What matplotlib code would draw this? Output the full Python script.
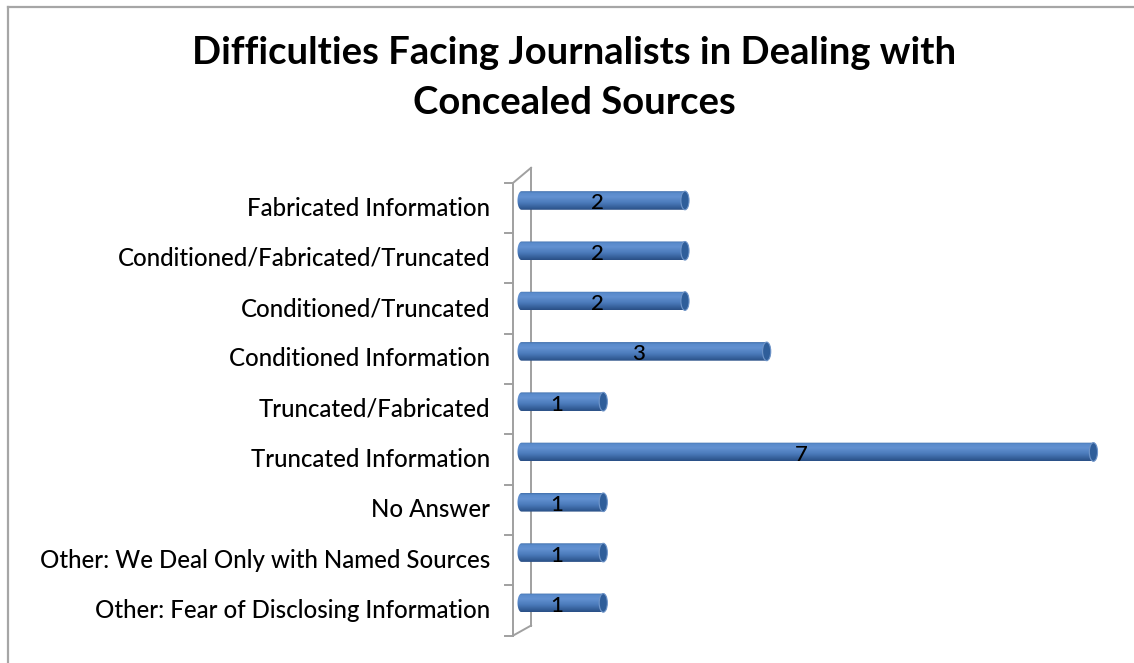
import numpy as np
import matplotlib
matplotlib.use("Agg")
import matplotlib.pyplot as plt
from matplotlib.path import Path
from matplotlib.patches import PathPatch, Ellipse
from matplotlib.colors import LinearSegmentedColormap
from matplotlib.lines import Line2D

# Survey answers (top to bottom)
categories = [
    "Fabricated Information",
    "Conditioned/Fabricated/Truncated",
    "Conditioned/Truncated",
    "Conditioned Information",
    "Truncated/Fabricated",
    "Truncated Information",
    "No Answer",
    "Other: We Deal Only with Named Sources",
    "Other: Fear of Disclosing Information",
]
counts = [2, 2, 2, 3, 1, 7, 1, 1, 1]
title_lines = ["Difficulties Facing Journalists in Dealing with", "Concealed Sources"]

W, H = 1134, 663
fig = plt.figure(figsize=(W / 100, H / 100), dpi=100)
fig.patch.set_facecolor("white")

# outer frame of the chart area
fig.add_artist(Line2D([8 / W, 1], [1 - 7 / H, 1 - 7 / H], color="#a6a6a6", lw=1.6))
fig.add_artist(Line2D([8 / W, 8 / W], [0, 1 - 7 / H], color="#a6a6a6", lw=1.6))

ax = fig.add_axes([0.4405, 0.0148, 0.5403, 0.7587])
ax.set_xlim(-0.27, 7.23)
ax.set_ylim(9.0, -1.0)
ax.axis("off")

n = len(categories)
ypos = np.arange(n)
h = 0.37          # cylinder thickness
a = 0.05          # half-width of the end ellipses (x data units)

cyl = LinearSegmentedColormap.from_list(
    "cyl",
    [(0.0, "#4270ab"), (0.10, "#5a8bcc"), (0.30, "#6391d1"),
     (0.60, "#4c7cbc"), (0.85, "#36619b"), (1.0, "#2a4f85")],
)
grad = np.linspace(0, 1, 64).reshape(-1, 1)

for y, v in zip(ypos, counts):
    t = np.linspace(0, np.pi, 40)
    top, bot = y - h / 2, y + h / 2
    # left rounded end (top -> bottom), then right rounded end (bottom -> top)
    lx = -a * np.sin(t)
    ly = y - (h / 2) * np.cos(t)
    rx = v + a * np.sin(t)
    ry = y + (h / 2) * np.cos(t)
    verts = np.concatenate([np.column_stack([lx, ly]), np.column_stack([rx, ry]),
                            [[lx[0], ly[0]]]])
    codes = [Path.MOVETO] + [Path.LINETO] * (len(verts) - 2) + [Path.CLOSEPOLY]
    body = PathPatch(Path(verts, codes), facecolor="none", edgecolor="none")
    ax.add_patch(body)
    im = ax.imshow(grad, cmap=cyl, extent=(-a, v + a, bot, top),
                   aspect="auto", origin="upper", interpolation="bilinear", zorder=2)
    im.set_clip_path(body)
    # end cap of the cylinder
    ax.add_patch(Ellipse((v, y), 2 * a, h, facecolor="#2f5e9a",
                         edgecolor="#6f95c9", lw=0.8, zorder=4))
    ax.text(v / 2 - 0.07, y + 0.06, f"{v}", ha="center", va="center",
            fontsize=16, family="Lato", fontweight="medium", color="black", zorder=5)

# category labels
for y, lab in zip(ypos, categories):
    ax.text(-0.386, y + 0.15, lab, ha="right", va="center",
            fontsize=17.3, family="Lato", fontweight="medium", color="black")

# 3-D axis wall: back edge, front edge, depth connectors and tick marks
sep = np.arange(n + 1) - 0.35
xf, xb, xt = -0.104, 0.116, -0.202
wall = dict(color="#a0a0a0", lw=1.4, clip_on=False, zorder=1)
ax.plot([xb, xb], [sep[0] - 0.30, sep[-1] - 0.20], **wall)
ax.plot([xf, xf], [sep[0], sep[-1]], **wall)
ax.plot([xf, xb], [sep[0], sep[0] - 0.30], **wall)
ax.plot([xf, xb], [sep[-1], sep[-1] - 0.20], **wall)
for s in sep:
    ax.plot([xt, xf], [s, s], **wall)

for k, line in enumerate(title_lines):
    fig.text(574 / W, 1 - (53 + 50 * k) / H, line, ha="center", va="center",
             fontsize=27.5, family="Lato", fontweight="bold")

fig.savefig("out.png", dpi=100, facecolor="white")
